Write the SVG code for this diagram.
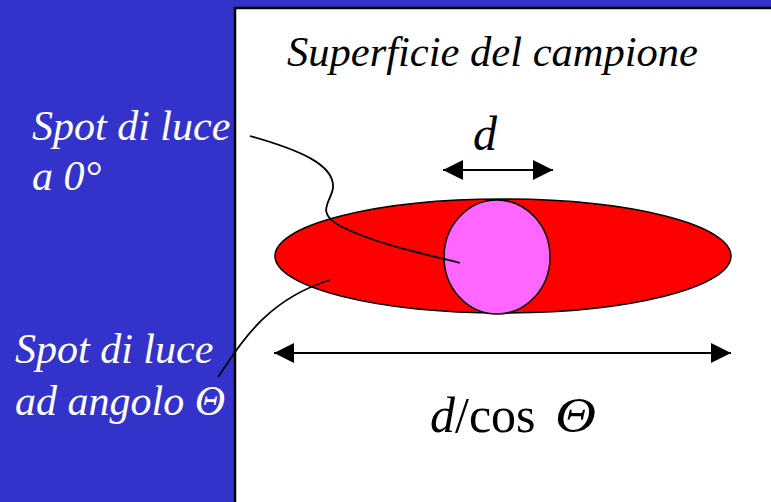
<svg xmlns="http://www.w3.org/2000/svg" width="771" height="502" viewBox="0 0 771 502">
<style>
.t{font-family:"Liberation Serif","Times New Roman",serif;font-style:italic;font-size:42px}
.w{fill:#ffffff}
.k{fill:#000000}
.ln{fill:none;stroke:#000;stroke-width:1.8}
</style>
<defs>
<marker id="ah" viewBox="0 0 20 20" refX="20" refY="10" markerWidth="20" markerHeight="20" markerUnits="userSpaceOnUse" orient="auto-start-reverse">
<polygon points="0,0 20,10 0,20" fill="#000"/>
</marker>
</defs>
<rect x="0" y="0" width="771" height="502" fill="#3333CC"/>
<g id="surface">
<rect x="235" y="8" width="540" height="500" fill="#ffffff" stroke="#000" stroke-width="2.5"/>
<text class="t k" x="287" y="66" textLength="411" lengthAdjust="spacingAndGlyphs">Superficie del campione</text>
</g>
<g id="ellipse-spot">
<ellipse cx="503" cy="256" rx="228" ry="57" fill="#FF0000" stroke="#000" stroke-width="1.5"/>
</g>
<g id="circle-spot">
<ellipse cx="497" cy="257" rx="53" ry="57" fill="#FF66FF" stroke="#000" stroke-width="1.5"/>
</g>
<g id="label-0">
<text class="t w" x="32" y="140">Spot di luce</text>
<text class="t w" x="32" y="190">a 0°</text>
</g>
<g id="label-theta">
<text class="t w" x="15" y="363">Spot di luce</text>
<text class="t w" x="15" y="415">ad angolo Θ</text>
</g>
<g id="label-d">
<text class="t k" x="473" y="150" style="font-size:48px">d</text>
</g>
<g id="label-dcos">
<text x="430" y="432" style="font-family:'Liberation Serif','Times New Roman',serif;font-size:50px" fill="#000"><tspan font-style="italic">d</tspan>/cos <tspan font-style="italic" dx="7" textLength="41" lengthAdjust="spacingAndGlyphs">Θ</tspan></text>
</g>
<g id="connectors">
<line class="ln" x1="443" y1="170" x2="553" y2="170" marker-start="url(#ah)" marker-end="url(#ah)"/>
<line class="ln" x1="274" y1="353" x2="731" y2="353" marker-start="url(#ah)" marker-end="url(#ah)"/>
<path class="ln" d="M250,136 C300,150 335,165 333,188 C331,202 315,212 340,226 C380,246 430,255 460,263"/>
<path class="ln" d="M218,377 C240,345 265,300 330,280"/>
</g>
</svg>
